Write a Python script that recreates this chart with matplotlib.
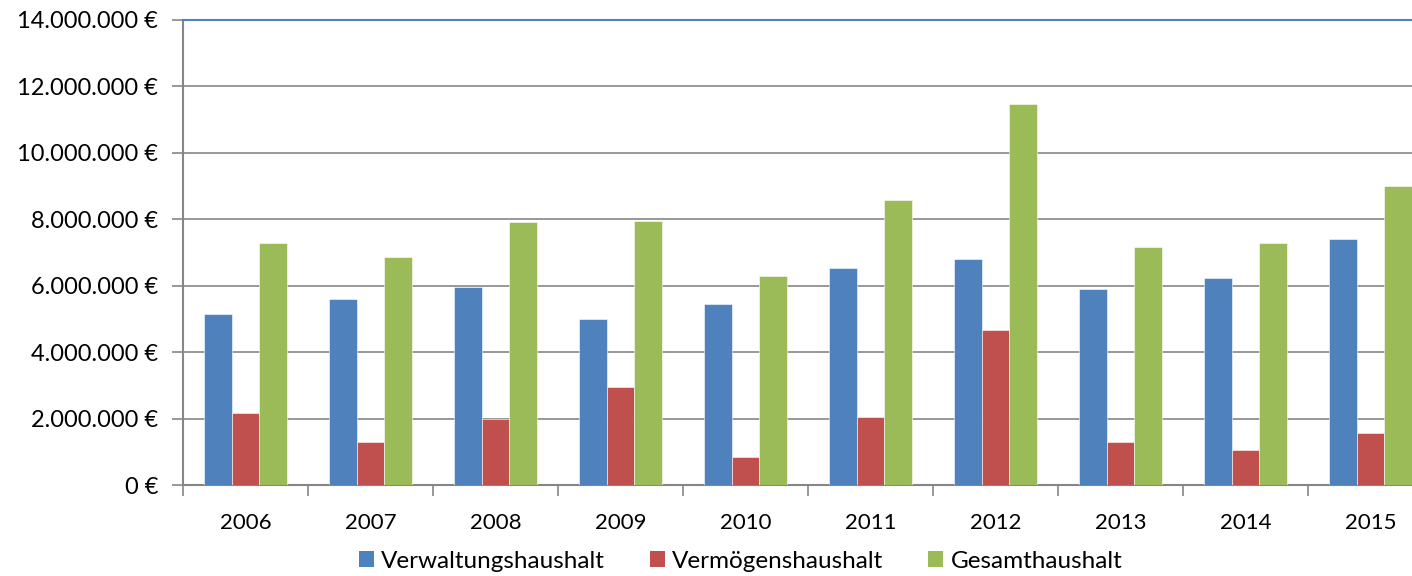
import matplotlib
matplotlib.use("Agg")
import matplotlib.pyplot as plt
import numpy as np
from matplotlib.ticker import FuncFormatter, FixedLocator
from matplotlib.patches import Patch

years = ["2006", "2007", "2008", "2009", "2010", "2011", "2012", "2013", "2014", "2015"]
verwaltung = [5.15e6, 5.60e6, 5.96e6, 5.00e6, 5.45e6, 6.53e6, 6.80e6, 5.90e6, 6.23e6, 7.41e6]
vermoegen = [2.17e6, 1.29e6, 1.99e6, 2.95e6, 0.84e6, 2.05e6, 4.67e6, 1.29e6, 1.05e6, 1.57e6]
gesamt = [7.29e6, 6.87e6, 7.92e6, 7.95e6, 6.29e6, 8.58e6, 11.48e6, 7.17e6, 7.29e6, 9.00e6]
series_names = ["Verwaltungshaushalt", "Vermögenshaushalt", "Gesamthaushalt"]
colors = ["#4F81BD", "#C0504D", "#9BBB59"]

plt.rcParams["font.family"] = ["Lato", "DejaVu Sans"]

W, H = 1412, 576
fig = plt.figure(figsize=(W / 100, H / 100), dpi=100)
left, right, top, bottom = 183, 1433, 20, 485
ax = fig.add_axes([left / W, 1 - bottom / H, (right - left) / W, (bottom - top) / H])

x = np.arange(len(years))
bw = 0.222
for i, (vals, c) in enumerate(zip([verwaltung, vermoegen, gesamt], colors)):
    ax.bar(x + (i - 1) * bw, vals, width=bw, color=c, edgecolor="white", linewidth=0.4, zorder=3)

ax.set_xlim(-0.5, len(years) - 0.5)
ax.set_ylim(0, 14e6)
ax.set_yticks(np.arange(0, 14e6 + 1, 2e6))


def fmt(v, pos):
    s = f"{int(round(v)):,}".replace(",", ".")
    return f"{s} €"


ax.yaxis.set_major_formatter(FuncFormatter(fmt))
ax.yaxis.grid(True, color="#868686", linewidth=1.2, zorder=0)
ax.set_axisbelow(True)

ax.set_xticks(x)
ax.set_xticklabels(years)
ax.xaxis.set_minor_locator(FixedLocator(np.arange(-0.5, len(years), 1.0)))
ax.tick_params(axis="x", which="major", length=0, pad=20, labelsize=16)
ax.tick_params(axis="x", which="minor", length=8, width=1.2, color="#868686", direction="out")
ax.tick_params(axis="y", length=8, width=1.2, color="#868686", direction="out", pad=10, labelsize=17)

for s in ["left", "bottom"]:
    ax.spines[s].set_color("#868686")
    ax.spines[s].set_linewidth(1.5)
ax.spines["right"].set_visible(False)
ax.spines["top"].set_color("#4F81BD")
ax.spines["top"].set_linewidth(1.5)

handles = [Patch(facecolor=c, edgecolor="none") for c in colors]
fig.legend(handles, series_names, loc="center", bbox_to_anchor=(740.5 / W, 1 - 561 / H),
           ncol=3, frameon=False, fontsize=17.5, handlelength=0.62, handleheight=0.62,
           handletextpad=0.3, columnspacing=1.85, borderpad=0)

fig.savefig("out.png", dpi=100)
